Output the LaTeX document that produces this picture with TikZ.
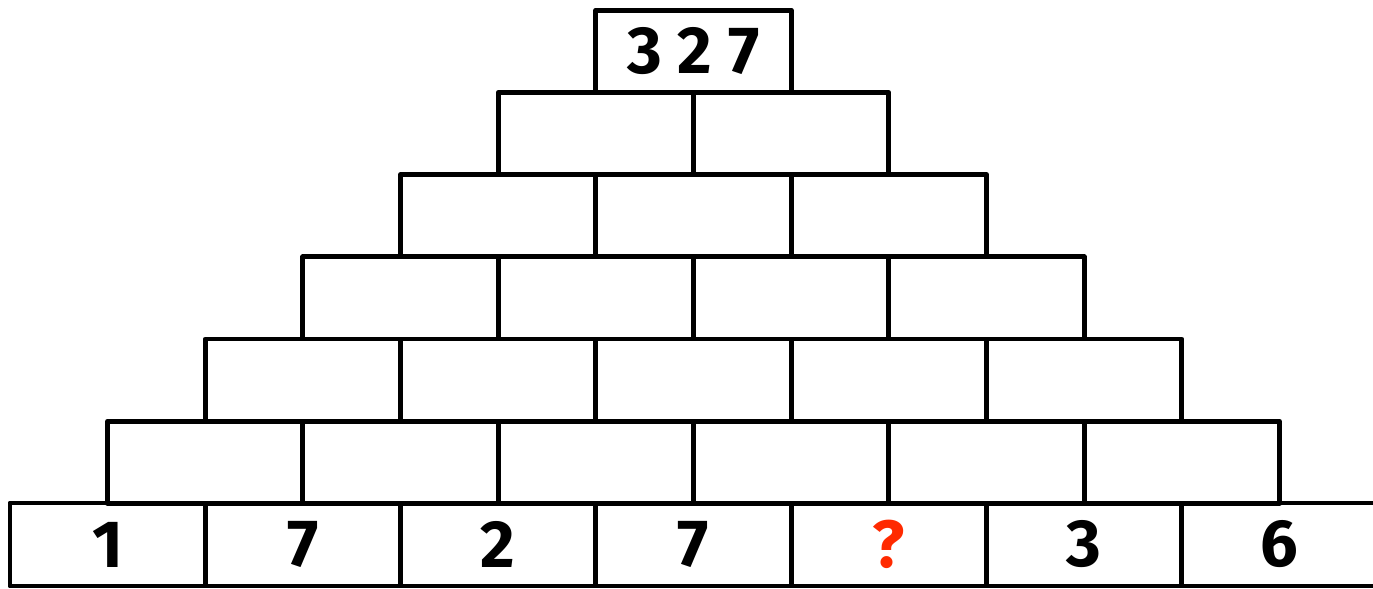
\documentclass[tikz,border=0pt]{standalone}
\usepackage{fontspec}
\usepackage{xcolor}
\usepackage{tikz}
\setsansfont{Fira Sans}
\definecolor{askRed}{HTML}{FF2A00}
\newcommand{\brickfont}{\sffamily\bfseries\fontsize{19}{20}\selectfont}

\begin{document}
\begin{tikzpicture}[line join=round,
    brick/.style={draw,line width=1.4pt,minimum width=1.953cm,minimum height=0.822cm,
                  inner sep=0pt,font=\brickfont}]
    \useasboundingbox (0,0) rectangle (13.73,5.88);
    \clip (0,0) rectangle (13.73,5.88);

    % bottom row with the given numbers
    \foreach \v/\c [count=\i from 0] in {1/black,7/black,2/black,7/black,?/askRed,3/black,6/black}
      \node[brick,minimum height=0.83cm,text=\c] (b0-\i) at ({1.0765+1.953*\i},0.435) {\v};

    % empty rows
    \foreach \r in {1,...,5}{
      \pgfmathtruncatemacro\n{6-\r}
      \foreach \i in {0,...,\n}
        \node[brick] (b\r-\i) at ({1.0765+0.9765*\r+1.953*\i},{0.435+0.822*\r}) {};
    }

    % top brick
    \node[brick] (b6-0) at ({1.0765+0.9765*6},{0.435+0.822*6}) {3\hspace{0.16cm}2\hspace{0.16cm}7};
  \end{tikzpicture}
\end{document}
